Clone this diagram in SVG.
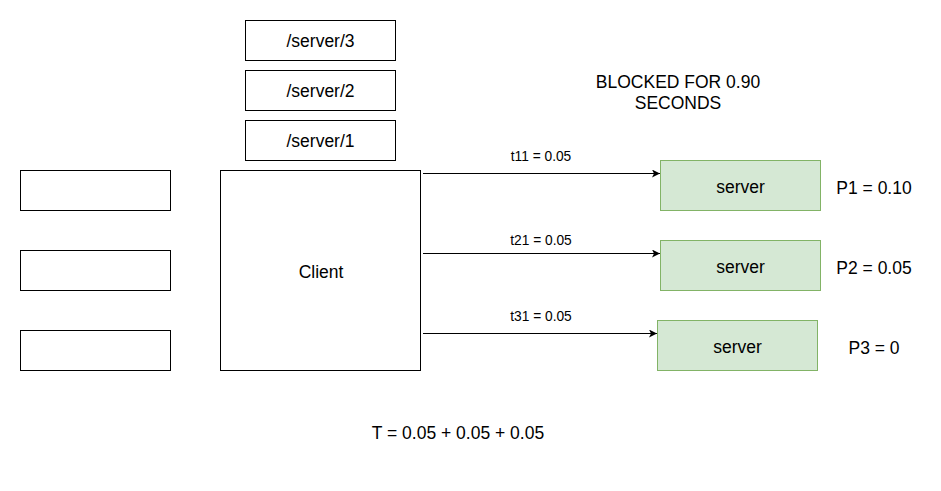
<svg xmlns="http://www.w3.org/2000/svg" width="941" height="491" viewBox="0 0 941 491">
<defs>
<style>
.b{fill:#fff;stroke:#000;stroke-width:1}
.g{fill:#d5e8d4;stroke:#82b366;stroke-width:1}
.t{font-family:"Liberation Sans",Arial,sans-serif;font-size:17.5px;fill:#000;text-anchor:middle}
.s{font-family:"Liberation Sans",Arial,sans-serif;font-size:13.75px;fill:#000;text-anchor:middle}
.e{stroke:#000;stroke-width:1;fill:none}
</style>
<marker id="ah" viewBox="0 0 10 10" refX="10" refY="5" markerWidth="8" markerHeight="8" markerUnits="userSpaceOnUse" orient="auto">
<path d="M0,0 L10,5 L0,10 L2.5,5 Z" fill="#000"/>
</marker>
</defs>
<rect width="941" height="491" fill="#fff"/>
<g id="left1"><rect class="b" x="20.5" y="170.5" width="150" height="40"/></g>
<g id="left2"><rect class="b" x="20.5" y="250.5" width="150" height="40"/></g>
<g id="left3"><rect class="b" x="20.5" y="330.5" width="150" height="40"/></g>
<g id="client"><rect class="b" x="220.5" y="170.5" width="200" height="200"/><text class="t" x="321" y="277.5">Client</text></g>
<g id="path3"><rect class="b" x="245.5" y="20.5" width="150" height="40"/><text class="t" x="320.5" y="47">/server/3</text></g>
<g id="path2"><rect class="b" x="245.5" y="70.5" width="150" height="40"/><text class="t" x="320.5" y="97">/server/2</text></g>
<g id="path1"><rect class="b" x="245.5" y="120.5" width="150" height="40"/><text class="t" x="320.5" y="147">/server/1</text></g>
<g id="server1"><rect class="g" x="660.5" y="160.5" width="160" height="50"/><text class="t" x="740.5" y="193">server</text></g>
<g id="server2"><rect class="g" x="660.5" y="240.5" width="160" height="50"/><text class="t" x="740.5" y="273">server</text></g>
<g id="server3"><rect class="g" x="657.5" y="320.5" width="160" height="50"/><text class="t" x="737.5" y="353">server</text></g>
<g id="connectors">
<path class="e" d="M423,173.5 L660,173.5" marker-end="url(#ah)"/>
<path class="e" d="M423,253.5 L660,253.5" marker-end="url(#ah)"/>
<path class="e" d="M423,333.5 L657,333.5" marker-end="url(#ah)"/>
</g>
<g id="labels">
<text class="s" x="541" y="161">t11 = 0.05</text>
<text class="s" x="541" y="245">t21 = 0.05</text>
<text class="s" x="541" y="321">t31 = 0.05</text>
<text class="t" x="874" y="193.5">P1 = 0.10</text>
<text class="t" x="874" y="273.5">P2 = 0.05</text>
<text class="t" x="874" y="353.5">P3 = 0</text>
<text class="t" x="678" y="87.5">BLOCKED FOR 0.90</text>
<text class="t" x="678" y="108.5">SECONDS</text>
<text class="t" x="458" y="438.5">T = 0.05 + 0.05 + 0.05</text>
</g>
</svg>
